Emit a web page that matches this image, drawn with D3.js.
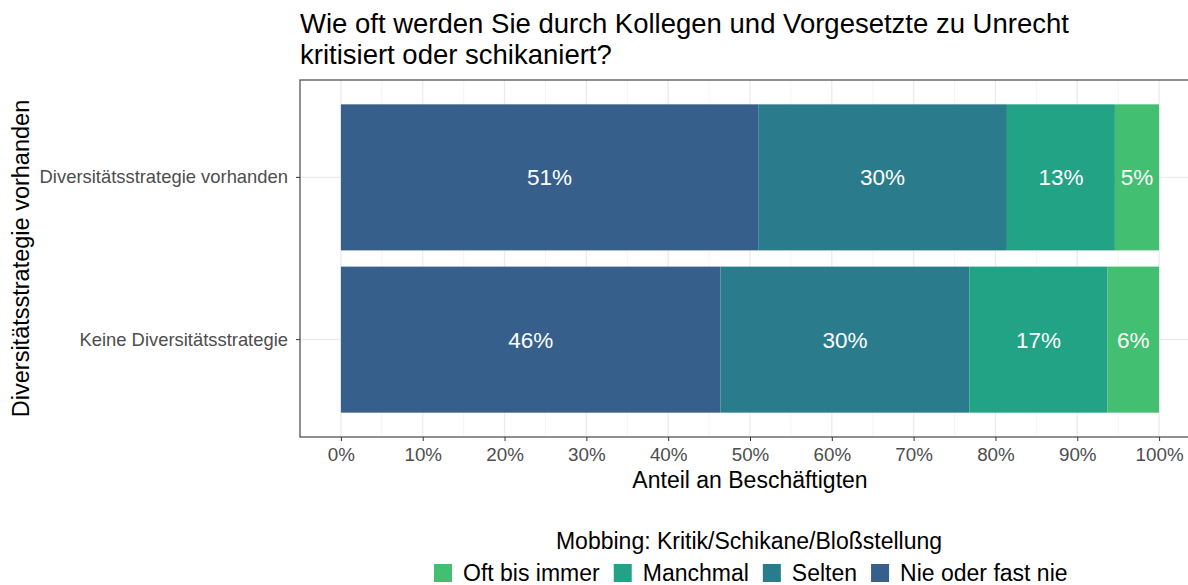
<!DOCTYPE html>
<html>
<head>
<meta charset="utf-8">
<script src="https://cdn.jsdelivr.net/npm/d3@7"></script>
<style>
  body { margin: 0; background: #fff; }
  text { font-family: "Liberation Sans", Arial, sans-serif; }
</style>
</head>
<body>
<div id="chart"></div>
<script>
// Data
const categories = ["Diversitätsstrategie vorhanden", "Keine Diversitätsstrategie"]
const levels = ["Nie oder fast nie", "Selten", "Manchmal", "Oft bis immer"]
const nieValues = [51.0, 46.4]
const seltenValues = [30.4, 30.4]
const manchmalValues = [13.2, 16.9]
const oftValues = [5.4, 6.3]
const xTicks = [0, 10, 20, 30, 40, 50, 60, 70, 80, 90, 100]
const legendOrder = ["Oft bis immer", "Manchmal", "Selten", "Nie oder fast nie"]
const colors = {
  "Nie oder fast nie": "#365f8c",
  "Selten": "#2a7c8d",
  "Manchmal": "#22a385",
  "Oft bis immer": "#43bf71"
}

const valuesByLevel = {
  "Nie oder fast nie": nieValues,
  "Selten": seltenValues,
  "Manchmal": manchmalValues,
  "Oft bis immer": oftValues
}

// table for the stack
const rows = categories.map((c, i) => {
  const r = { cat: c }
  levels.forEach(l => { r[l] = valuesByLevel[l][i] })
  return r
})

const width = 1188, height = 585
const panel = { left: 300, right: 1200, top: 80, bottom: 437 }

const svg = d3.select('#chart')
  .append('svg')
  .attr('width', width)
  .attr('height', height)

// Scales
const xScale = d3.scaleLinear()
  .domain([-5, 105])
  .range([panel.left, panel.right])

const yScale = d3.scaleBand()
  .domain(categories)
  .range([panel.top, panel.bottom])
  .paddingInner(0.1)
  .paddingOuter(0.15)

// grid
const grid = svg.append('g')
const minor = d3.range(5, 100, 10)
grid.selectAll('.minor')
  .data(minor)
  .join('line')
  .attr('x1', d => xScale(d)).attr('x2', d => xScale(d))
  .attr('y1', panel.top).attr('y2', panel.bottom)
  .attr('stroke', '#f2f2f2').attr('stroke-width', 0.8)
grid.selectAll('.major')
  .data(xTicks)
  .join('line')
  .attr('x1', d => xScale(d)).attr('x2', d => xScale(d))
  .attr('y1', panel.top).attr('y2', panel.bottom)
  .attr('stroke', '#ebebeb').attr('stroke-width', 1.3)
grid.selectAll('.hmajor')
  .data(categories)
  .join('line')
  .attr('x1', panel.left).attr('x2', panel.right)
  .attr('y1', d => yScale(d) + yScale.bandwidth() / 2)
  .attr('y2', d => yScale(d) + yScale.bandwidth() / 2)
  .attr('stroke', '#ebebeb').attr('stroke-width', 1.3)

// bars
const stack = d3.stack().keys(levels)(rows)

const layers = svg.append('g')
  .selectAll('g')
  .data(stack)
  .join('g')
  .attr('fill', d => colors[d.key])

layers.selectAll('rect')
  .data(d => d)
  .join('rect')
  .attr('x', d => xScale(d[0]))
  .attr('width', d => xScale(d[1]) - xScale(d[0]))
  .attr('y', d => yScale(d.data.cat))
  .attr('height', yScale.bandwidth())

layers.selectAll('text')
  .data(d => d)
  .join('text')
  .attr('x', d => (xScale(d[0]) + xScale(d[1])) / 2)
  .attr('y', d => yScale(d.data.cat) + yScale.bandwidth() / 2)
  .attr('dy', '0.36em')
  .attr('text-anchor', 'middle')
  .attr('fill', 'white')
  .style('font-size', '22.5px')
  .text(d => Math.round(d[1] - d[0]) + '%')

// panel border
svg.append('rect')
  .attr('x', panel.left).attr('y', panel.top)
  .attr('width', panel.right - panel.left)
  .attr('height', panel.bottom - panel.top)
  .attr('fill', 'none')
  .attr('stroke', '#555')
  .attr('stroke-width', 1.3)

// Axes
const xAxis = d3.axisBottom(xScale)
  .tickValues(xTicks)
  .tickFormat(d => d + '%')
  .tickSize(4)
  .tickPadding(7)
const gx = svg.append('g')
  .attr('transform', `translate(0, ${panel.bottom})`)
  .call(xAxis)
gx.select('.domain').remove()
gx.selectAll('line').attr('stroke', '#333')
gx.selectAll('text').attr('fill', '#4d4d4d').style('font-size', '18.8px')

const yAxis = d3.axisLeft(yScale)
  .tickSize(4)
  .tickPadding(8)
const gy = svg.append('g')
  .attr('transform', `translate(${panel.left}, 0)`)
  .call(yAxis)
gy.select('.domain').remove()
gy.selectAll('line').attr('stroke', '#333')
gy.selectAll('text').attr('fill', '#4d4d4d').style('font-size', '18.4px')

// titles
const title = svg.append('text')
  .attr('fill', '#000')
  .style('font-size', '27.5px')
title.append('tspan').attr('x', panel.left).attr('y', 33)
  .text('Wie oft werden Sie durch Kollegen und Vorgesetzte zu Unrecht')
title.append('tspan').attr('x', panel.left).attr('y', 64)
  .text('kritisiert oder schikaniert?')

svg.append('text')
  .attr('x', 750)
  .attr('y', 488)
  .attr('text-anchor', 'middle')
  .style('font-size', '23px')
  .text('Anteil an Beschäftigten')

svg.append('text')
  .attr('transform', `translate(29, ${(panel.top + panel.bottom) / 2}) rotate(-90)`)
  .attr('text-anchor', 'middle')
  .style('font-size', '23.5px')
  .text('Diversitätsstrategie vorhanden')

// Legend
svg.append('text')
  .attr('x', 749)
  .attr('y', 549)
  .attr('text-anchor', 'middle')
  .style('font-size', '23px')
  .text('Mobbing: Kritik/Schikane/Bloßstellung')

const legend = svg.append('g')
let lx = 434
legendOrder.forEach(l => {
  legend.append('rect')
    .attr('x', lx).attr('y', 564)
    .attr('width', 18).attr('height', 18)
    .attr('fill', colors[l])
  const t = legend.append('text')
    .attr('x', lx + 29).attr('y', 581)
    .style('font-size', '23px')
    .text(l)
  lx += 29 + t.node().getComputedTextLength() + 14
})
</script>
</body>
</html>
